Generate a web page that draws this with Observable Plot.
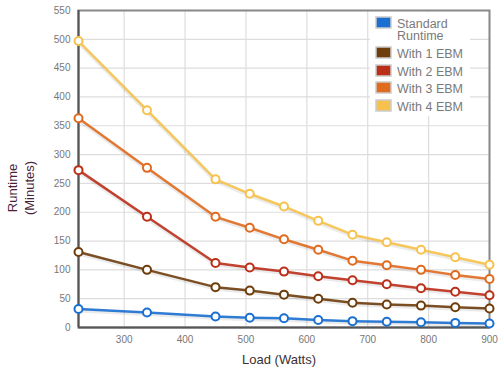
<!DOCTYPE html>
<html><head><meta charset="utf-8">
<script src="https://cdn.jsdelivr.net/npm/d3@7"></script>
<script src="https://cdn.jsdelivr.net/npm/@observablehq/plot@0.6"></script>
<style>
body{margin:0;background:#fff;font-family:"Liberation Sans",Arial,sans-serif;}
#chart{position:relative;width:500px;height:376px;}
</style></head>
<body><div id="chart"></div>
<script>
const loads = [225, 337.5, 450, 506.25, 562.5, 618.75, 675, 731.25, 787.5, 843.75, 900];
const seriesNames = ["Standard Runtime", "With 1 EBM", "With 2 EBM", "With 3 EBM", "With 4 EBM"];
const seriesColors = ["#1a6fd0", "#6e3d0c", "#bb2f18", "#e06a1e", "#f6c24d"];
const standard = [32, 26, 19, 17, 16, 13, 11, 10, 9, 8, 7];
const ebm1 = [131, 100, 70, 64, 57, 50, 43, 40, 38, 35, 33];
const ebm2 = [273, 192, 112, 104, 97, 89, 82, 75, 68, 62, 56];
const ebm3 = [363, 277, 192, 173, 153, 135, 116, 108, 100, 91, 84];
const ebm4 = [497, 377, 257, 232, 210, 185, 161, 148, 135, 122, 109];
const xTicks = [300, 400, 500, 600, 700, 800, 900];
const yTicks = [0, 50, 100, 150, 200, 250, 300, 350, 400, 450, 500, 550];

const allSeries = [standard, ebm1, ebm2, ebm3, ebm4];
const data = [];
allSeries.forEach((vals, i) => vals.forEach((v, j) => data.push({load: loads[j], runtime: v, series: seriesNames[i]})));

const chart = Plot.plot({
  width: 500, height: 376,
  marginLeft: 78, marginRight: 11, marginTop: 10, marginBottom: 49,
  style: {fontFamily: "Liberation Sans, Arial, sans-serif", fontSize: "10px", color: "#777", background: "#fff"},
  x: {domain: [225, 900], ticks: xTicks, label: null, tickSize: 0, tickPadding: 8},
  y: {domain: [0, 550], ticks: yTicks, label: null, tickSize: 0, tickPadding: 8},
  color: {domain: seriesNames, range: seriesColors},
  marks: [
    Plot.gridX(xTicks, {stroke: "#ddd", strokeOpacity: 1, strokeWidth: 1.2}),
    Plot.gridY(yTicks, {stroke: "#ddd", strokeOpacity: 1, strokeWidth: 1.2}),
    Plot.frame({stroke: "#888", strokeWidth: 2}),
    Plot.ruleX([225], {stroke: "#555", strokeWidth: 2}),
    Plot.ruleY([0], {stroke: "#555", strokeWidth: 2}),
    Plot.axisX({ticks: xTicks, tickSize: 0, tickPadding: 8, fill: "#777", fontSize: 10}),
    Plot.axisY({ticks: yTicks, tickSize: 0, tickPadding: 8, fill: "#777", fontSize: 10}),
    Plot.line(data, {x: "load", y: "runtime", z: "series", stroke: "#000", strokeOpacity: 0.08, strokeWidth: 4, dy: 1.5}),
    Plot.line(data, {x: "load", y: "runtime", stroke: "series", strokeWidth: 2.5, strokeOpacity: 0.9}),
    Plot.dot(data, {x: "load", y: "runtime", stroke: "series", fill: "#fff", r: 4, strokeWidth: 2}),
    Plot.text(["Load (Watts)"], {frameAnchor: "bottom", dy: 36, dx: -5, fontSize: 13, fill: "#3b2f2f"})
  ]
});
document.getElementById("chart").appendChild(chart);

const svg = d3.select(chart);
// Y axis title
const yt = svg.append("text").attr("transform", "translate(22,188) rotate(-90)")
  .attr("text-anchor", "middle").attr("font-size", 13).attr("fill", "#4a1f3a")
  .attr("font-family", "Liberation Sans, Arial, sans-serif");
yt.append("tspan").attr("x", 0).attr("dy", "-0.35em").text("Runtime");
yt.append("tspan").attr("x", 0).attr("dy", "1.25em").text("(Minutes)");

// Legend
const lg = svg.append("g").attr("font-family", "Liberation Sans, Arial, sans-serif")
  .attr("font-size", 12.5).attr("text-anchor", "start");
lg.append("rect").attr("x", 370).attr("y", 12).attr("width", 100).attr("height", 104).attr("fill", "#fff");
const rowsY = [23, 53, 71, 88, 106];
seriesNames.forEach((name, i) => {
  const y = rowsY[i];
  lg.append("rect").attr("x", 376).attr("y", y - 6).attr("width", 15).attr("height", 11)
    .attr("fill", seriesColors[i]).attr("stroke", "#ccc").attr("stroke-width", 1.5);
  const t = lg.append("text").attr("x", 397).attr("y", y + 4.5).attr("fill", "#7a7a7a").attr("text-anchor", "start");
  if (i === 0) {
    t.append("tspan").attr("x", 397).text("Standard");
    t.append("tspan").attr("x", 397).attr("dy", 12.5).text("Runtime");
  } else t.text(name);
});
</script></body></html>
